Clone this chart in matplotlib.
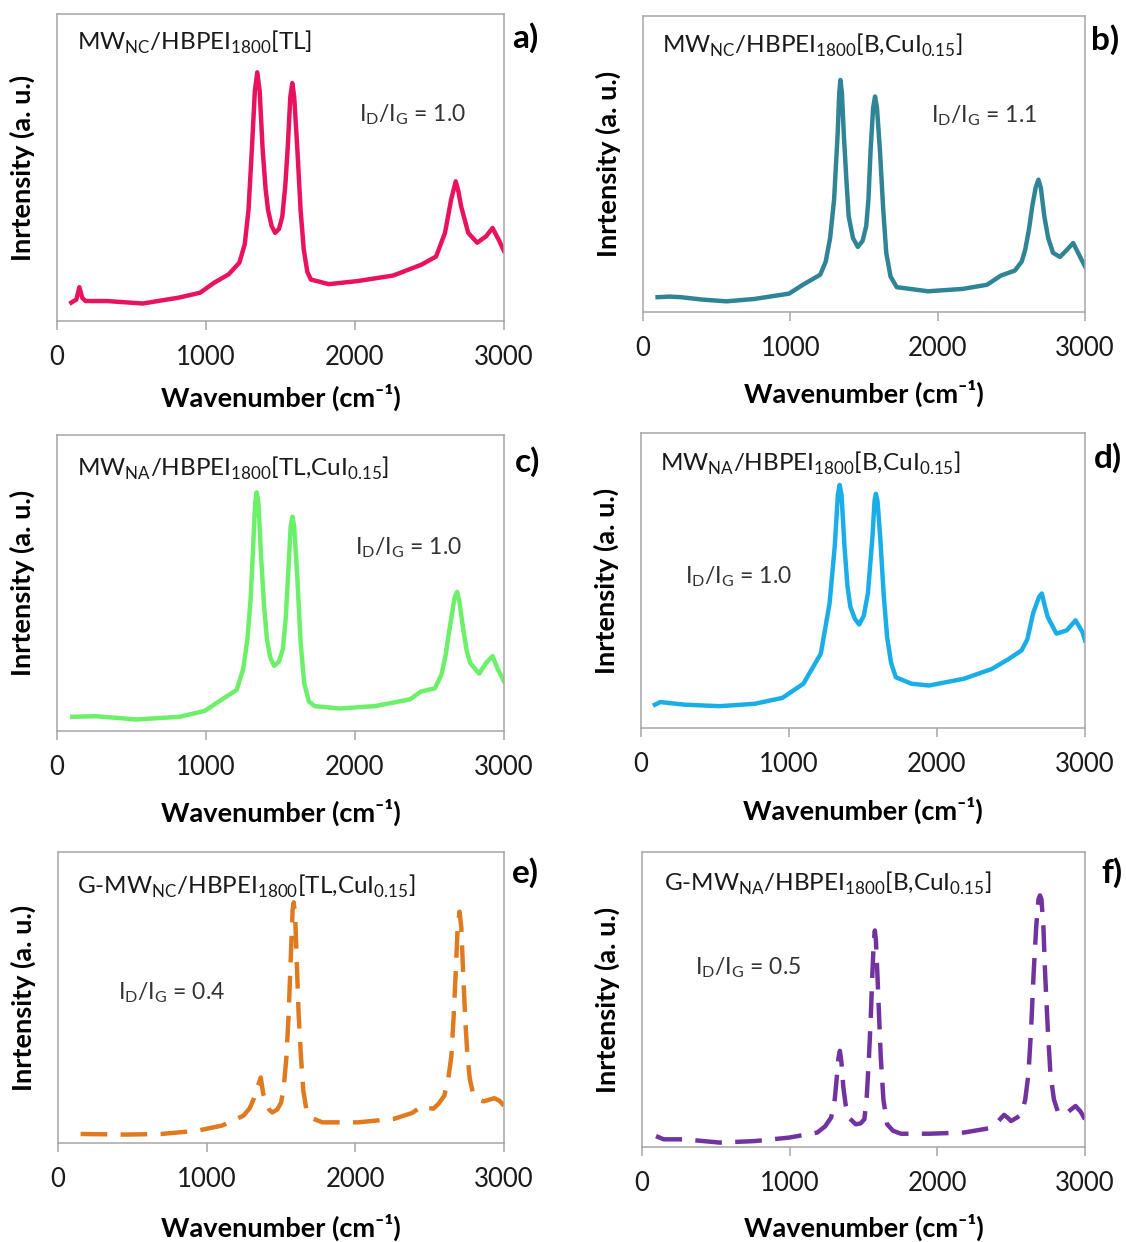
import matplotlib.pyplot as plt

# Raman spectra (intensity as fraction of the plot height)
wn_a = [96, 130, 150, 170, 192, 336, 576, 816, 960, 1056, 1152, 1224, 1260, 1285, 1308, 1328, 1344,
        1360, 1380, 1400, 1416, 1440, 1464, 1490, 1512, 1532, 1548, 1566, 1579, 1592, 1613, 1635,
        1656, 1680, 1704, 1824, 2016, 2256, 2448, 2544, 2604, 2645, 2676, 2695, 2712, 2760, 2820,
        2880, 2923, 2964, 3000]
int_a = [.06, .07, .11, .075, .065, .065, .057, .076, .092, .125, .152, .19, .25, .36, .56, .75, .81,
         .75, .56, .43, .363, .31, .287, .30, .34, .44, .56, .73, .775, .73, .56, .36,
         .233, .16, .135, .12, .13, .148, .184, .21, .287, .395, .455, .42, .374, .287, .255,
         .276, .303, .265, .228]

wn_b = [99, 180, 259, 401, 566, 755, 991, 1085, 1203, 1240, 1270, 1297, 1321, 1332, 1340, 1350,
        1363, 1380, 1396, 1425, 1458, 1490, 1515, 1530, 1545, 1562, 1575, 1588, 1608, 1630, 1651,
        1680, 1722, 1934, 2170, 2335, 2429, 2524, 2570, 2594, 2620, 2642, 2665, 2684, 2700, 2724,
        2750, 2783, 2830, 2877, 2920, 2960, 3000]
int_b = [.05, .052, .05, .042, .036, .044, .062, .092, .126, .17, .25, .38, .60, .74, .784, .74,
         .60, .45, .323, .25, .22, .24, .29, .38, .548, .69, .728, .69, .548, .35, .20,
         .12, .084, .07, .078, .092, .123, .14, .17, .21, .28, .357, .42, .447, .42, .323,
         .25, .20, .186, .21, .233, .193, .154]

wn_c = [103, 259, 533, 823, 992, 1087, 1206, 1250, 1278, 1300, 1314, 1330, 1340, 1352, 1369, 1390,
        1409, 1430, 1457, 1490, 1516, 1535, 1552, 1568, 1580, 1592, 1611, 1635, 1659, 1690, 1730,
        1896, 2133, 2370, 2441, 2536, 2580, 2607, 2630, 2649, 2668, 2685, 2700, 2726, 2750, 2773,
        2833, 2880, 2923, 2959, 3000]
int_c = [.048, .05, .039, .048, .068, .10, .139, .21, .31, .45, .595, .77, .806, .77, .595, .42,
         .31, .25, .22, .235, .277, .38, .536, .69, .724, .69, .536, .30, .162, .10, .084,
         .076, .084, .107, .133, .144, .19, .253, .33, .39, .45, .47, .44, .345, .27, .23,
         .194, .23, .253, .208, .168]

wn_d = [94, 130, 295, 531, 767, 955, 1097, 1215, 1274, 1309, 1330, 1342, 1355, 1375, 1395, 1415,
        1445, 1474, 1505, 1533, 1564, 1578, 1587, 1598, 1616, 1640, 1663, 1690, 1722, 1828, 1946,
        2182, 2370, 2488, 2571, 2610, 2650, 2690, 2708, 2725, 2748, 2807, 2877, 2936, 2983, 3000]
int_d = [.079, .088, .079, .074, .082, .102, .15, .252, .422, .615, .79, .824, .79, .615, .48, .41,
         .37, .351, .38, .456, .649, .77, .794, .77, .649, .45, .308, .22, .172, .15, .144,
         .167, .20, .235, .263, .30, .39, .445, .456, .42, .376, .32, .331, .365, .325, .297]

wn_e = [152, 453, 694, 935, 1104, 1248, 1290, 1316, 1340, 1364, 1380, 1398, 1420, 1441, 1475, 1501,
        1520, 1537, 1552, 1566, 1578, 1586, 1595, 1605, 1618, 1634, 1650, 1670, 1710, 1778, 2019,
        2260, 2381, 2453, 2490, 2525, 2560, 2598, 2625, 2646, 2662, 2675, 2688, 2701, 2713, 2725,
        2740, 2754, 2770, 2790, 2825, 2863, 2935, 2970, 3000]
int_e = [.031, .029, .031, .042, .06, .094, .12, .151, .19, .225, .17, .139, .115, .105, .115, .139,
         .20, .299, .45, .64, .80, .827, .78, .64, .45, .299, .18, .117, .085, .071, .071,
         .083, .103, .128, .12, .118, .135, .162, .22, .299, .44, .584, .74, .795, .74, .584,
         .42, .299, .22, .174, .15, .143, .154, .145, .128]

wn_f = [95, 147, 288, 525, 761, 998, 1187, 1240, 1281, 1305, 1317, 1330, 1340, 1350, 1364, 1380,
        1400, 1447, 1480, 1506, 1522, 1537, 1550, 1560, 1570, 1577, 1584, 1594, 1605, 1617, 1635,
        1660, 1700, 1754, 1943, 2180, 2345, 2404, 2452, 2475, 2499, 2540, 2570, 2595, 2617, 2635,
        2652, 2670, 2685, 2695, 2705, 2718, 2730, 2748, 2766, 2790, 2818, 2865, 2900, 2936, 2970,
        3000]
int_f = [.037, .026, .026, .015, .02, .032, .049, .07, .10, .16, .224, .30, .326, .29, .20, .14,
         .10, .077, .08, .094, .17, .304, .45, .587, .70, .734, .70, .587, .45, .304, .16,
         .077, .055, .045, .045, .049, .063, .083, .109, .10, .088, .10, .111, .16, .247, .40,
         .587, .75, .84, .853, .84, .75, .587, .40, .247, .16, .117, .111, .125, .139, .12,
         .094]

titles = [
    r"MW$_{\mathregular{NC}}$/HBPEI$_{\mathregular{1800}}$[TL]",
    r"MW$_{\mathregular{NC}}$/HBPEI$_{\mathregular{1800}}$[B,CuI$_{\mathregular{0.15}}$]",
    r"MW$_{\mathregular{NA}}$/HBPEI$_{\mathregular{1800}}$[TL,CuI$_{\mathregular{0.15}}$]",
    r"MW$_{\mathregular{NA}}$/HBPEI$_{\mathregular{1800}}$[B,CuI$_{\mathregular{0.15}}$]",
    r"G-MW$_{\mathregular{NC}}$/HBPEI$_{\mathregular{1800}}$[TL,CuI$_{\mathregular{0.15}}$]",
    r"G-MW$_{\mathregular{NA}}$/HBPEI$_{\mathregular{1800}}$[B,CuI$_{\mathregular{0.15}}$]",
]
ratios = ["1.0", "1.1", "1.0", "1.0", "0.4", "0.5"]
letters = ["a)", "b)", "c)", "d)", "e)", "f)"]
xticks = [0, 1000, 2000, 3000]

W, H = 1126, 1242


def main():
    plt.rcParams["font.family"] = ["Lato", "DejaVu Sans"]

    spectra = [(wn_a, int_a), (wn_b, int_b), (wn_c, int_c),
               (wn_d, int_d), (wn_e, int_e), (wn_f, int_f)]
    colors = ["#E8125E", "#2F8496", "#6CF06A", "#1AAEE8", "#E07A1E", "#7232A0"]
    dashed = [False, False, False, False, True, True]
    # box (left, right, top, bottom) in pixels, x-label centre y, letter pos, ratio text pos
    boxes = [(57, 504, 14, 321), (643, 1085, 16, 312),
             (57, 504, 435, 731), (641, 1085, 433, 728),
             (58, 504, 852, 1143), (642, 1085, 852, 1147)]
    xlab_y = [397, 393, 812, 810, 1227, 1227]
    letter_pos = [(525, 38), (1105, 40), (528, 462), (1108, 458), (525, 873), (1112, 873)]
    title_pos = [(77, 42), (662, 45), (77, 468), (660, 463), (77, 886), (664, 883)]
    ratio_pos = [(359, 115), (931, 116), (355, 548), (685, 577), (118, 993), (695, 968)]

    fig = plt.figure(figsize=(W / 100, H / 100), dpi=100)
    gray = "#A6A6A6"

    for i in range(6):
        l, r, t, b = boxes[i]
        ax = fig.add_axes([l / W, 1 - b / H, (r - l) / W, (b - t) / H])
        wn, inten = spectra[i]
        if dashed[i]:
            ax.plot(wn, inten, color=colors[i], lw=3.2, linestyle=(0, (6, 3)))
        else:
            ax.plot(wn, inten, color=colors[i], lw=3.2)
        ax.set_xlim(0, 3000)
        ax.set_ylim(0, 1)
        ax.set_xticks(xticks)
        ax.set_xticklabels([str(v) for v in xticks])
        ax.set_yticks([])
        for s in ax.spines.values():
            s.set_color(gray)
            s.set_linewidth(1.1)
        ax.tick_params(axis="x", direction="out", length=6.5, width=1.1, color=gray,
                       pad=11, labelsize=18.5, labelcolor="#1a1a1a")

        ax.set_xlabel("Wavenumber (cm\u207b\u00b9)", fontsize=19.5, fontweight="bold")
        ax.xaxis.label.set_va("center")
        ax.xaxis.set_label_coords(0.5, -(xlab_y[i] - b) / (b - t))
        ax.set_ylabel("Inrtensity (a. u.)", fontsize=19.5, fontweight="bold")
        ax.yaxis.label.set_va("center")
        ax.yaxis.set_label_coords(-35 / (r - l), 0.5)

        fig.text(title_pos[i][0] / W, 1 - title_pos[i][1] / H, titles[i],
                 fontsize=17.5, ha="left", va="center", color="#1a1a1a")
        fig.text(ratio_pos[i][0] / W, 1 - ratio_pos[i][1] / H,
                 r"I$_{\mathregular{D}}$/I$_{\mathregular{G}}$ = " + ratios[i],
                 fontsize=16.5, ha="left", va="center", color="#333333")
        fig.text(letter_pos[i][0] / W, 1 - letter_pos[i][1] / H, letters[i],
                 fontsize=24, fontweight="bold", ha="center", va="center")

    fig.savefig("out.png", dpi=100)
    plt.close(fig)


if __name__ == "__main__":
    main()
